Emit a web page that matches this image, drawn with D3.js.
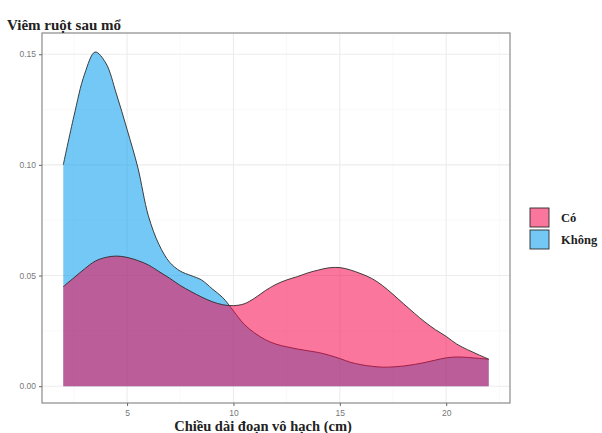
<!DOCTYPE html>
<html>
<head>
<meta charset="utf-8">
<script src="https://cdn.jsdelivr.net/npm/d3@7"></script>
<style>
  html, body { margin: 0; padding: 0; background: #fff; }
  svg { display: block; }
</style>
</head>
<body>
<svg id="chart" width="602" height="433"></svg>
<script>
// ---- data ----
const xGrid = [2,2.5,3,3.5,4,4.5,5,5.5,6,6.5,7,7.5,8,8.5,9,9.5,10,10.5,11,11.5,12,12.5,13,13.5,14,14.5,15,15.5,16,16.5,17,17.5,18,18.5,19,19.5,20,20.5,21,21.5,22];
const densKhong = [0.100,0.122,0.141,0.151,0.146,0.132,0.116,0.099,0.077,0.064,0.056,0.052,0.050,0.048,0.044,0.040,0.034,0.028,0.024,0.021,0.019,0.0178,0.0168,0.016,0.0152,0.014,0.0125,0.0108,0.0097,0.0090,0.0086,0.0087,0.0091,0.0098,0.0107,0.0118,0.0128,0.0132,0.0130,0.0126,0.0122];
const densCo = [0.045,0.049,0.053,0.0565,0.0582,0.0588,0.0582,0.0568,0.0548,0.0518,0.0488,0.0455,0.0428,0.0403,0.0382,0.0368,0.0364,0.0372,0.0398,0.0432,0.0460,0.0480,0.0495,0.0512,0.0525,0.0535,0.0536,0.0525,0.0508,0.0487,0.0455,0.0415,0.0372,0.0330,0.0290,0.0255,0.0225,0.0190,0.0165,0.0143,0.0122];
const groups = ["Có", "Không"];
const xTicks = [5, 10, 15, 20];
const yTicks = [0.00, 0.05, 0.10, 0.15];
const titleText = "Viêm ruột sau mổ";
const xTitle = "Chiều dài đoạn vô hạch (cm)";

// ---- layout ----
const panel = { left: 42, right: 510, top: 33, bottom: 403 };
const svg = d3.select("#chart");

const x = d3.scaleLinear().domain([1, 23]).range([panel.left, panel.right]);
const y = d3.scaleLinear().domain([-0.0076, 0.1596]).range([panel.bottom, panel.top]);

const fillCol = { "Có": "#f5054a", "Không": "#009bed" };
const alpha = 0.55;

// grid
const g = svg.append("g");
const minorX = [2.5, 7.5, 12.5, 17.5, 22.5];
const minorY = [0.025, 0.075, 0.125];
g.selectAll(".mx").data(minorX).enter().append("line")
  .attr("x1", d => x(d)).attr("x2", d => x(d))
  .attr("y1", panel.top).attr("y2", panel.bottom)
  .attr("stroke", "#f5f5f5").attr("stroke-width", 0.6);
g.selectAll(".my").data(minorY).enter().append("line")
  .attr("y1", d => y(d)).attr("y2", d => y(d))
  .attr("x1", panel.left).attr("x2", panel.right)
  .attr("stroke", "#f5f5f5").attr("stroke-width", 0.6);
g.selectAll(".gx").data(xTicks).enter().append("line")
  .attr("x1", d => x(d)).attr("x2", d => x(d))
  .attr("y1", panel.top).attr("y2", panel.bottom)
  .attr("stroke", "#ececec").attr("stroke-width", 1.1);
g.selectAll(".gy").data(yTicks).enter().append("line")
  .attr("y1", d => y(d)).attr("y2", d => y(d))
  .attr("x1", panel.left).attr("x2", panel.right)
  .attr("stroke", "#ececec").attr("stroke-width", 1.1);

// densities
const area = d3.area().x(d => x(d[0])).y0(y(0)).y1(d => y(d[1])).curve(d3.curveCatmullRom.alpha(0.5));
const line = d3.line().x(d => x(d[0])).y(d => y(d[1])).curve(d3.curveCatmullRom.alpha(0.5));
const seriesKhong = xGrid.map((v, i) => [v, densKhong[i]]);
const seriesCo = xGrid.map((v, i) => [v, densCo[i]]);

[["Không", seriesKhong], ["Có", seriesCo]].forEach(([name, s]) => {
  svg.append("path").datum(s).attr("d", area)
    .attr("fill", fillCol[name]).attr("fill-opacity", alpha);
  svg.append("path").datum(s).attr("d", line)
    .attr("fill", "none").attr("stroke", "#2b2b2b").attr("stroke-width", 0.9);
});

// panel border
svg.append("rect")
  .attr("x", panel.left).attr("y", panel.top)
  .attr("width", panel.right - panel.left).attr("height", panel.bottom - panel.top)
  .attr("fill", "none").attr("stroke", "#8a8a8a").attr("stroke-width", 1.2);

// axes
const xAxis = d3.axisBottom(x).tickValues(xTicks).tickSize(3).tickPadding(4).tickFormat(d3.format("d"));
const yAxis = d3.axisLeft(y).tickValues(yTicks).tickSize(3).tickPadding(3).tickFormat(d3.format(".2f"));
const xa = svg.append("g").attr("transform", `translate(0,${panel.bottom})`).call(xAxis);
const ya = svg.append("g").attr("transform", `translate(${panel.left},0)`).call(yAxis);
[xa, ya].forEach(a => {
  a.select(".domain").remove();
  a.selectAll(".tick line").attr("stroke", "#666");
  a.selectAll(".tick text").attr("fill", "#777").style("font-family", "'Liberation Sans', Arial, sans-serif").style("font-size", "8.5px");
});

// title
svg.append("text").attr("x", 7).attr("y", 30)
  .style("font-family", "'Liberation Serif', 'Times New Roman', serif")
  .style("font-weight", "bold").style("font-size", "15px").attr("fill", "#222")
  .text(titleText);

// x title
svg.append("text").attr("x", 263).attr("y", 431).attr("text-anchor", "middle")
  .style("font-family", "'Liberation Serif', 'Times New Roman', serif")
  .style("font-weight", "bold").style("font-size", "14.5px").attr("fill", "#222")
  .text(xTitle);

// legend
const leg = svg.append("g");
groups.forEach((name, i) => {
  const ky = 207 + i * 22;
  leg.append("rect").attr("x", 529).attr("y", ky).attr("width", 21).attr("height", 21)
    .attr("fill", "#fff");
  leg.append("rect").attr("x", 530).attr("y", ky + 1).attr("width", 19).attr("height", 19)
    .attr("fill", fillCol[name]).attr("fill-opacity", alpha)
    .attr("stroke", "#2b2b2b").attr("stroke-width", 0.9);
  leg.append("text").attr("x", 561).attr("y", ky + 15)
    .style("font-family", "'Liberation Serif', 'Times New Roman', serif")
    .style("font-weight", "bold").style("font-size", "12.5px").attr("fill", "#222")
    .text(name);
});
</script>
</body>
</html>
